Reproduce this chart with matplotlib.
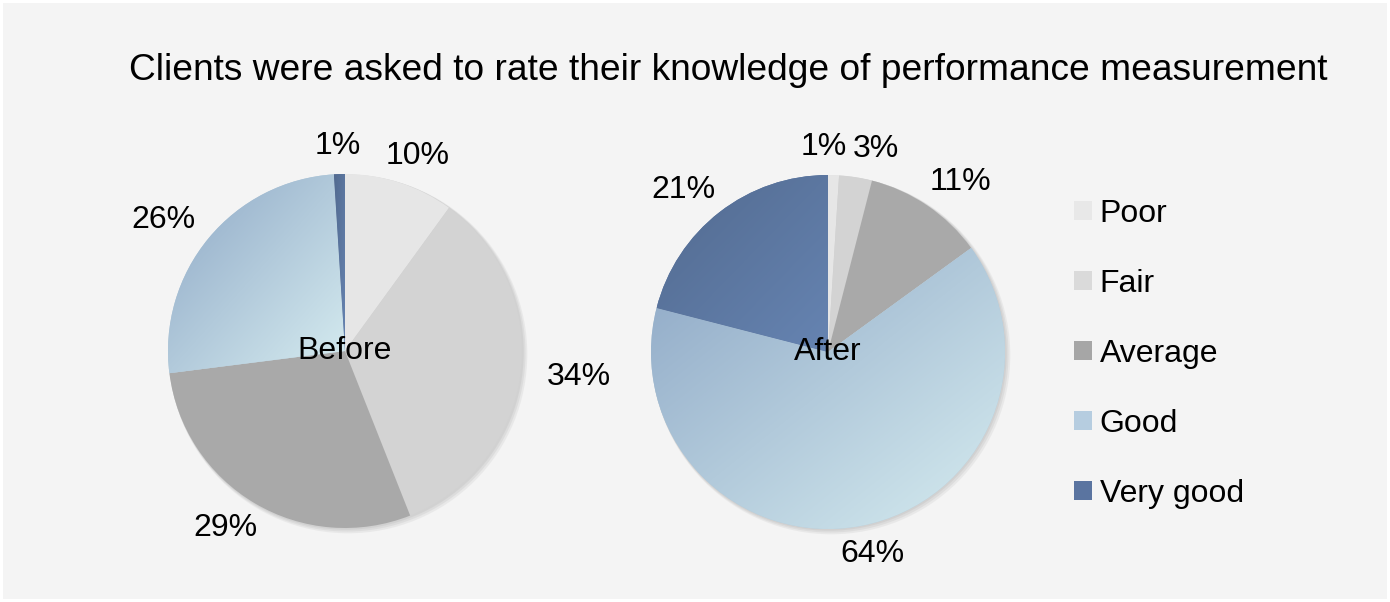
import numpy as np
import matplotlib.pyplot as plt
from matplotlib.patches import Patch, Rectangle
from matplotlib.colors import LinearSegmentedColormap

plt.rcParams['font.family'] = ['Liberation Sans', 'DejaVu Sans']

categories = ['Poor', 'Fair', 'Average', 'Good', 'Very good']
before = [10, 34, 29, 26, 1]
after = [1, 3, 11, 64, 21]
title = 'Clients were asked to rate their knowledge of performance measurement'

# flat colours, and gradient end points (top-left -> bottom-right) where used
flat = ['#e6e6e6', '#d3d3d3', '#a9a9a9', '#b4cad9', '#5a74a0']
grads = {
	3: ('#8ea8c6', '#d6ecf0'),
	4: ('#526a8f', '#6684b2'),
}

W, H = 1390, 602
dpi = 100
FS = 23


def spread_labels(fig, texts):
	# push overlapping percentage labels sideways
	fig.canvas.draw()
	r = fig.canvas.get_renderer()
	for _ in range(20):
		moved = False
		for i in range(len(texts)):
			for j in range(i + 1, len(texts)):
				a = texts[i].get_window_extent(r)
				b = texts[j].get_window_extent(r)
				if a.overlaps(b):
					dx = (min(a.x1, b.x1) - max(a.x0, b.x0)) / 2 + 3
					ax = texts[i].axes
					inv = ax.transData.inverted()
					d = inv.transform((dx, 0))[0] - inv.transform((0, 0))[0]
					xi, yi = texts[i].get_position()
					xj, yj = texts[j].get_position()
					if xi <= xj:
						texts[i].set_position((xi - d, yi))
						texts[j].set_position((xj + d, yj))
					else:
						texts[i].set_position((xi + d, yi))
						texts[j].set_position((xj - d, yj))
					moved = True
		if not moved:
			break


def add_pie(fig, cx, cy, r, values, name):
	ax = fig.add_axes([(cx - r) / W, (H - cy - r) / H, 2 * r / W, 2 * r / H])
	ax.set_axis_off()

	# faint drop shadow
	for k, a in enumerate([0.25, 0.35, 0.5]):
		off = 0.006 * (3 - k)
		sh = plt.Circle((off, -off), 1.0 + 0.004 * (3 - k), color='#c8c8c8',
			zorder=0, alpha=a, lw=0, clip_on=False)
		ax.add_patch(sh)

	wedges, texts, autotexts = ax.pie(
		values, colors=flat, startangle=90, counterclock=False, radius=1.0,
		autopct=lambda p: f'{p:.0f}%', pctdistance=1.24,
		wedgeprops=dict(linewidth=0), textprops=dict(fontsize=FS),
	)
	# outside labels sit a bit further out sideways than vertically
	for w, t in zip(wedges, autotexts):
		mid = np.deg2rad((w.theta1 + w.theta2) / 2)
		t.set_position((1.33 * np.cos(mid), 1.16 * np.sin(mid)))
		t.set_clip_on(False)

	for i, (c0, c1) in grads.items():
		w = wedges[i]
		ext = w.get_path().get_extents()
		cmap = LinearSegmentedColormap.from_list('g', [c0, c1])
		yy, xx = np.mgrid[0:1:200j, 0:1:200j]
		g = (xx + yy) / 2
		im = ax.imshow(g, cmap=cmap, extent=(ext.x0, ext.x1, ext.y0, ext.y1),
			origin='upper', zorder=w.get_zorder() + 0.1, interpolation='bilinear')
		im.set_clip_path(w)

	ax.set_xlim(-1, 1)
	ax.set_ylim(-1, 1)
	ax.set_aspect('equal')
	ax.text(0, 0, name, ha='center', va='center', fontsize=FS, zorder=10)
	return autotexts


def main():
	fig = plt.figure(figsize=(W / dpi, H / dpi), dpi=dpi, facecolor='white')
	fig.patches.append(Rectangle((3 / W, 3 / H), 1 - 6 / W, 1 - 6 / H,
		transform=fig.transFigure, facecolor='#f4f4f4', edgecolor='none', zorder=-10))

	fig.text(728 / W, 1 - 70 / H, title, ha='center', va='center', fontsize=26.7)

	t1 = add_pie(fig, 345, 351, 177, before, 'Before')
	t2 = add_pie(fig, 828, 352, 177, after, 'After')

	handles = [Patch(facecolor=c, edgecolor='none') for c in
		['#e8e8e8', '#dadada', '#a6a6a6', '#b6cde0', '#5a74a0']]
	fig.legend(handles, categories, loc='center left',
		bbox_to_anchor=(1074 / W, 1 - 354 / H), frameon=False, fontsize=FS,
		handlelength=0.55, handleheight=0.55, handletextpad=0.25, labelspacing=1.25,
		borderpad=0, borderaxespad=0)

	spread_labels(fig, list(t1))
	spread_labels(fig, list(t2))

	fig.savefig('out.png', dpi=dpi, facecolor=fig.get_facecolor())
	plt.close(fig)


if __name__ == '__main__':
	main()
